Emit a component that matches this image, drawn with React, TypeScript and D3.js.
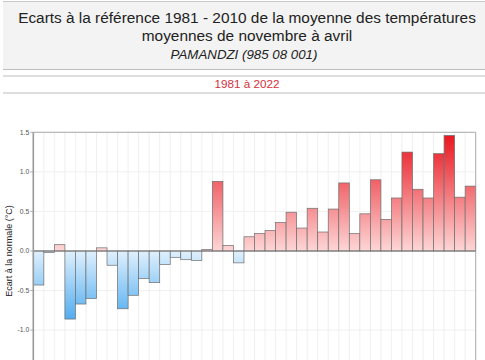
import React from "react";
import * as d3 from "d3";

const years: number[] = d3.range(1981, 2023);
const anomalies: number[] = [
  -0.43, -0.02, 0.08, -0.86, -0.67, -0.6, 0.04, -0.18, -0.73, -0.56,
  -0.35, -0.4, -0.17, -0.08, -0.11, -0.12, 0.02, 0.88, 0.07, -0.15,
  0.18, 0.22, 0.26, 0.36, 0.49, 0.29, 0.54, 0.24, 0.53, 0.86,
  0.22, 0.47, 0.9, 0.4, 0.67, 1.25, 0.78, 0.67, 1.23, 1.46,
  0.68, 0.82,
];
const yTicks: number[] = [1.5, 1.0, 0.5, 0.0, -0.5, -1.0];
const titleLines: string[] = [
  "Ecarts à la référence 1981 - 2010 de la moyenne des températures",
  "moyennes de novembre à avril",
];
const subtitle = "PAMANDZI (985 08 001)";
const period = "1981 à 2022";
const yLabel = "Ecart à la normale (°C)";

export default function App() {
  const W = 485;
  const H = 360;
  const left = 33.3;
  const right = 475.7;
  const x = d3
    .scaleBand<number>()
    .domain(years)
    .range([left, right])
    .paddingInner(0)
    .paddingOuter(0);
  const y = d3.scaleLinear().domain([-1.5, 1.5]).range([369.7, 132.3]);
  const y0 = y(0);
  const font = "Arial, 'Liberation Sans', sans-serif";

  return (
    <svg
      width={W}
      height={H}
      style={{ position: "absolute", left: 0, top: 0, background: "#fff" }}
      fontFamily={font}
    >
      <defs>
        <linearGradient id="redG" gradientUnits="userSpaceOnUse" x1="0" x2="0" y1={y0} y2={y(1.5)}>
          <stop offset="0" stopColor="#fdd6d6" />
          <stop offset="1" stopColor="#e8121b" />
        </linearGradient>
        <linearGradient id="blueG" gradientUnits="userSpaceOnUse" x1="0" x2="0" y1={y0} y2={y(-1)}>
          <stop offset="0" stopColor="#e0f0fd" />
          <stop offset="1" stopColor="#3aa2ee" />
        </linearGradient>
      </defs>

      {/* header */}
      <rect x={3} y={2} width={482} height={67} fill="#f3f3f3" />
      <line x1={3} x2={485} y1={1.5} y2={1.5} stroke="#c8c8c8" strokeWidth={1} />
      <line x1={3} x2={485} y1={69.5} y2={69.5} stroke="#bdbdbd" strokeWidth={1.2} />
      <line x1={3} x2={485} y1={76} y2={76} stroke="#bdbdbd" strokeWidth={1.2} />
      <line x1={3} x2={485} y1={93} y2={93} stroke="#bdbdbd" strokeWidth={1.2} />
      {titleLines.map((t, i) => (
        <text key={i} x={247} y={22.5 + i * 18} textAnchor="middle" fontSize={15.4} fill="#222">
          {t}
        </text>
      ))}
      <text x={244} y={58.5} textAnchor="middle" fontSize={13.3} fontStyle="italic" fill="#222">
        {subtitle}
      </text>
      <text x={247} y={87.5} textAnchor="middle" fontSize={11.7} fill="#d6303c">
        {period}
      </text>

      {/* grid */}
      {years.map((yr) => (
        <line
          key={"vg" + yr}
          x1={(x(yr) as number) + x.bandwidth()}
          x2={(x(yr) as number) + x.bandwidth()}
          y1={y(1.5)}
          y2={H}
          stroke="#ececec"
          strokeWidth={0.8}
        />
      ))}
      {yTicks.map((t) => (
        <line key={"hg" + t} x1={left} x2={right} y1={y(t)} y2={y(t)} stroke="#ececec" strokeWidth={0.8} />
      ))}

      {/* bars */}
      {years.map((yr, i) => {
        const v = anomalies[i];
        const top = v >= 0 ? y(v) : y0;
        const h = Math.abs(y(v) - y0);
        return (
          <rect
            key={"b" + yr}
            x={x(yr) as number}
            y={top}
            width={x.bandwidth()}
            height={h}
            fill={v >= 0 ? "url(#redG)" : "url(#blueG)"}
            stroke="#6e6e6e"
            strokeWidth={0.7}
          />
        );
      })}

      {/* zero line */}
      <line x1={left} x2={right} y1={y0} y2={y0} stroke="#777" strokeWidth={1} />

      {/* frame */}
      <line x1={left} x2={right} y1={y(1.5)} y2={y(1.5)} stroke="#999" strokeWidth={0.8} />
      <line x1={right} x2={right} y1={y(1.5)} y2={H} stroke="#999" strokeWidth={0.8} />
      <line x1={left} x2={left} y1={y(1.5)} y2={H} stroke="#999" strokeWidth={1.6} />

      {/* y axis ticks */}
      {yTicks.map((t) => (
        <g key={"yt" + t}>
          <line x1={left - 3} x2={left} y1={y(t)} y2={y(t)} stroke="#999" strokeWidth={0.8} />
          <text x={left - 4} y={y(t) + 2.3} textAnchor="end" fontSize={6.8} fill="#555">
            {t.toFixed(1)}
          </text>
        </g>
      ))}
      <text
        transform={`translate(12, ${y0}) rotate(-90)`}
        textAnchor="middle"
        fontSize={9}
        fill="#222"
      >
        {yLabel}
      </text>
    </svg>
  );
}
